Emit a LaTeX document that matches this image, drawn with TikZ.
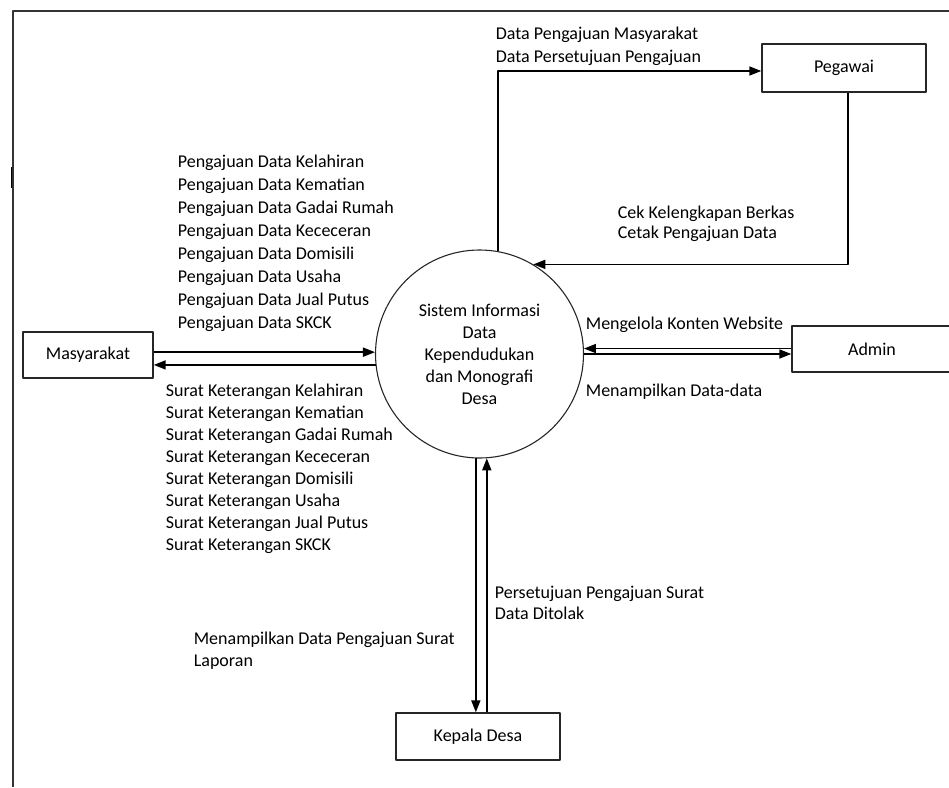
\documentclass[tikz,border=0pt]{standalone}
\usepackage{fontspec}
\setmainfont{Carlito}
\usetikzlibrary{arrows.meta}

\begin{document}
\begin{tikzpicture}[x=1pt,y=-1pt,line join=round,>={Triangle[length=12pt,width=9pt]},line width=1.7pt]
	\tikzset{every node/.style={font=\fontsize{18}{22}\selectfont},
		entity/.style={draw=black!85,line width=1.4pt,inner sep=0pt},
		lbl/.style={anchor=base west,inner sep=0pt}}
	\useasboundingbox (0,0) rectangle (949,787);
	\draw[line width=1.5pt,black!80] (949,11)--(13,11)--(13,787);
	\draw[line width=1.5pt] (11.5,167)--(11.5,188);
	\node[entity,minimum width=130,minimum height=46] (masyarakat) at (88,355) {Masyarakat};
	\node[entity,minimum width=164,minimum height=48] (pegawai) at (844,68) {Pegawai};
	\node[entity,minimum width=160,minimum height=46] (admin) at (872,349) {Admin};
	\node[entity,minimum width=164,minimum height=47] (kades) at (478,736.5) {Kepala Desa};
	\node[circle,draw=black!85,line width=1.1pt,minimum size=208,inner sep=0pt,align=center] (sistem) at (479.5,354)
		{Sistem Informasi\\Data\\Kependudukan\\dan Monografi\\Desa};
	\draw[->] (masyarakat.east |- sistem.179)--(sistem.179);
	\draw[<-] (masyarakat.east |- sistem.186)--(sistem.186);
	\draw[<-] (sistem.3)--(sistem.3 -| admin.west);
	\draw[->] (sistem.0)--(sistem.0 -| admin.west);
	\draw[->] (sistem.80) |- ([yshift=-3pt]pegawai.west);
	\draw[->] ([xshift=4pt]pegawai.south) |- (sistem.59);
	\draw[->] (sistem.268)--(sistem.268 |- kades.north);
	\draw[->] (sistem.274 |- kades.north)--(sistem.274);
	\foreach \jenis [count=\i from 0] in {Kelahiran,Kematian,Gadai Rumah,Kececeran,Domisili,Usaha,Jual Putus,SKCK}
	{
		\node[lbl] (aju\i) at (177,167+23.14*\i) {Pengajuan Data \jenis};
		\node[lbl] (surat\i) at (165,396+22.14*\i) {Surat Keterangan \jenis};
	}
	\node[lbl] (dmasy) at (495,39) {Data Pengajuan Masyarakat};
	\node[lbl] (dsetuju) at (495,62) {Data Persetujuan Pengajuan};
	\node[lbl] (cek) at (617,218) {Cek Kelengkapan Berkas};
	\node[lbl] (cetak) at (617,238) {Cetak Pengajuan Data};
	\node[lbl] (kelola) at (585,329) {Mengelola Konten Website};
	\node[lbl] (tampil) at (585,396) {Menampilkan Data-data};
	\node[lbl] (setuju) at (494,598) {Persetujuan Pengajuan Surat};
	\node[lbl] (tolak) at (494,619) {Data Ditolak};
	\node[lbl] (tampilaju) at (193,644) {Menampilkan Data Pengajuan Surat};
	\node[lbl] (laporan) at (193,666) {Laporan};
\end{tikzpicture}
\end{document}
